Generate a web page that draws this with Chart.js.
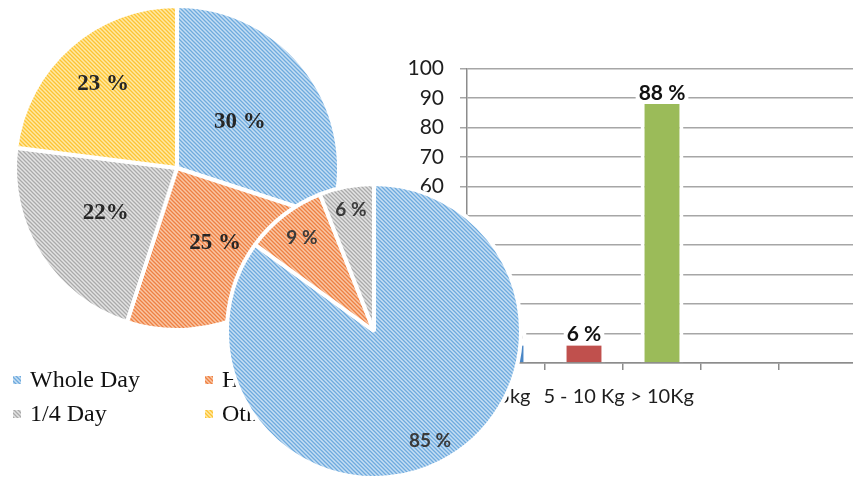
<!DOCTYPE html>
<html>
<head>
<meta charset="utf-8">
<title>Charts</title>
<script src="https://cdn.jsdelivr.net/npm/chart.js@4/dist/chart.umd.min.js"></script>
<style>
  html, body { margin: 0; padding: 0; background: #fff; }
  body { position: relative; width: 853px; height: 477px; overflow: hidden; }
  canvas { position: absolute; }
  #sizeChart { left: 380px; top: 40px; }
  #dayChart { left: 0px; top: 0px; }
  #mealChart { left: 224px; top: 181px; }
</style>
</head>
<body>
<canvas id="sizeChart" width="477" height="380"></canvas>
<canvas id="dayChart" width="360" height="440"></canvas>
<canvas id="mealChart" width="300" height="300"></canvas>
<script>
// bar chart: share per weight class
var sizeLabels = ['< 5kg', '5 - 10 Kg', '> 10Kg', '', ''];
var sizeShares = [6, 6, 88, null, null];
var sizeColors = ['#4a86c5', '#c0504d', '#9bbb59', '#fff', '#fff'];
var axisTicks = [0, 10, 20, 30, 40, 50, 60, 70, 80, 90, 100];

// first pie: working time
var dayLabels = ['Whole Day', 'Half Day', '1/4 Day', 'Others'];
var dayShares = [30, 25, 22, 23];
var daySep = [' %', ' %', '%', ' %'];

// second pie
var mealLabels = ['Whole Day', 'Half Day', '1/4 Day'];
var mealShares = [85, 9, 6];

// light base with thin "\" stripes, like the office hatch fill
function hatch(base, line) {
  var c = document.createElement('canvas');
  c.width = 4; c.height = 4;
  var g = c.getContext('2d');
  g.fillStyle = base;
  g.fillRect(0, 0, 4, 4);
  g.strokeStyle = line;
  g.lineWidth = 1.3;
  g.beginPath();
  g.moveTo(-1, -1); g.lineTo(5, 5);
  g.moveTo(3, -1); g.lineTo(5, 1);
  g.moveTo(-1, 3); g.lineTo(1, 5);
  g.stroke();
  return g.createPattern(c, 'repeat');
}

var blueFill = hatch('#c6def3', '#6eaade');
var orangeFill = hatch('#f9c6a4', '#ee8043');
var greyFill = hatch('#e3e3e3', '#aaaaaa');
var yellowFill = hatch('#ffe9a6', '#fdc433');

function sliceLabels(texts, dist, font, color) {
  return {
    id: 'sliceLabels',
    afterDatasetsDraw: function(chart) {
      var ctx = chart.ctx;
      var arcs = chart.getDatasetMeta(0).data;
      ctx.save();
      ctx.font = font;
      ctx.fillStyle = color;
      ctx.textAlign = 'center';
      ctx.textBaseline = 'middle';
      arcs.forEach(function(arc, i) {
        var mid = (arc.startAngle + arc.endAngle) / 2;
        var r = arc.outerRadius * dist[i];
        ctx.fillText(texts[i], arc.x + Math.cos(mid) * r, arc.y + Math.sin(mid) * r);
      });
      ctx.restore();
    }
  };
}

// two-column legend under the first pie
var dayLegend = {
  id: 'dayLegend',
  afterDraw: function(chart) {
    var ctx = chart.ctx;
    var colors = chart.data.datasets[0].backgroundColor;
    var cols = [13, 205], rows = [380, 414];
    ctx.save();
    ctx.font = '24px "Liberation Serif"';
    ctx.textBaseline = 'middle';
    chart.data.labels.forEach(function(lab, i) {
      var x = cols[i % 2], y = rows[Math.floor(i / 2)];
      ctx.fillStyle = colors[i];
      ctx.fillRect(x, y - 4, 8, 8);
      ctx.fillStyle = '#111';
      ctx.fillText(lab, x + 17, y + 1);
    });
    ctx.restore();
  }
};

var barLabels = {
  id: 'barLabels',
  afterDatasetsDraw: function(chart) {
    var ctx = chart.ctx;
    var bars = chart.getDatasetMeta(0).data;
    ctx.save();
    ctx.font = 'bold 21px Lato';
    ctx.textAlign = 'center';
    ctx.textBaseline = 'middle';
    bars.forEach(function(bar, i) {
      var v = sizeShares[i];
      if (v == null) return;
      var txt = v + ' %';
      var w = ctx.measureText(txt).width;
      var y = bar.y - 11;
      ctx.fillStyle = '#fff';
      ctx.fillRect(bar.x - w / 2 - 3, y - 11, w + 6, 22);
      ctx.fillStyle = '#111';
      ctx.fillText(txt, bar.x, y);
    });
    ctx.restore();
  }
};

new Chart(document.getElementById('sizeChart'), {
  type: 'bar',
  data: {
    labels: sizeLabels,
    datasets: [{
      data: sizeShares,
      backgroundColor: sizeColors,
      borderColor: '#fff',
      borderWidth: { left: 4, right: 4, top: 0, bottom: 0 },
      borderSkipped: false,
      categoryPercentage: 1,
      barPercentage: 0.55
    }]
  },
  options: {
    responsive: false,
    animation: false,
    layout: { padding: { top: 25, right: 0, bottom: 0, left: 0 } },
    plugins: { legend: { display: false }, tooltip: { enabled: false } },
    scales: {
      x: {
        afterFit: function(s) { s.height = 57; },
        grid: { drawOnChartArea: false, tickLength: 7, color: '#8c8c8c', lineWidth: 1.5 },
        border: { color: '#8c8c8c', width: 1.5 },
        ticks: { color: '#1e1e1e', font: { family: 'Lato', size: 20 }, padding: 15, maxRotation: 0, autoSkip: false }
      },
      y: {
        min: 0, max: 100,
        afterFit: function(s) { s.width = 87; },
        afterBuildTicks: function(s) { s.ticks = axisTicks.map(function(v) { return { value: v }; }); },
        grid: { color: '#a6a6a6', lineWidth: 1.5, tickLength: 7 },
        border: { color: '#8c8c8c', width: 1.5 },
        ticks: { color: '#1e1e1e', font: { family: 'Lato', size: 21 }, padding: 16 }
      }
    }
  },
  plugins: [barLabels]
});

new Chart(document.getElementById('dayChart'), {
  type: 'pie',
  data: {
    labels: dayLabels,
    datasets: [{
      data: dayShares,
      backgroundColor: [blueFill, orangeFill, greyFill, yellowFill],
      borderColor: '#fff',
      borderWidth: 4,
      radius: 162
    }]
  },
  options: {
    responsive: false,
    animation: false,
    layout: { padding: { top: 0, right: 6, bottom: 104, left: 0 } },
    plugins: { legend: { display: false }, tooltip: { enabled: false } }
  },
  plugins: [
    sliceLabels(dayShares.map(function(v, i) { return v + daySep[i]; }),
      [0.48, 0.52, 0.52, 0.69], 'bold 23px "Liberation Serif"', '#262626'),
    dayLegend
  ]
});

new Chart(document.getElementById('mealChart'), {
  type: 'pie',
  data: {
    labels: mealLabels,
    datasets: [{
      data: mealShares,
      backgroundColor: [blueFill, orangeFill, greyFill],
      borderColor: '#fff',
      borderWidth: 4,
      radius: 147
    }]
  },
  options: {
    responsive: false,
    animation: false,
    plugins: { legend: { display: false }, tooltip: { enabled: false } }
  },
  plugins: [
    sliceLabels(mealShares.map(function(v) { return v + ' %'; }),
      [0.84, 0.8, 0.84], 'bold 19px Lato', '#3a3a3a')
  ]
});
</script>
</body>
</html>
